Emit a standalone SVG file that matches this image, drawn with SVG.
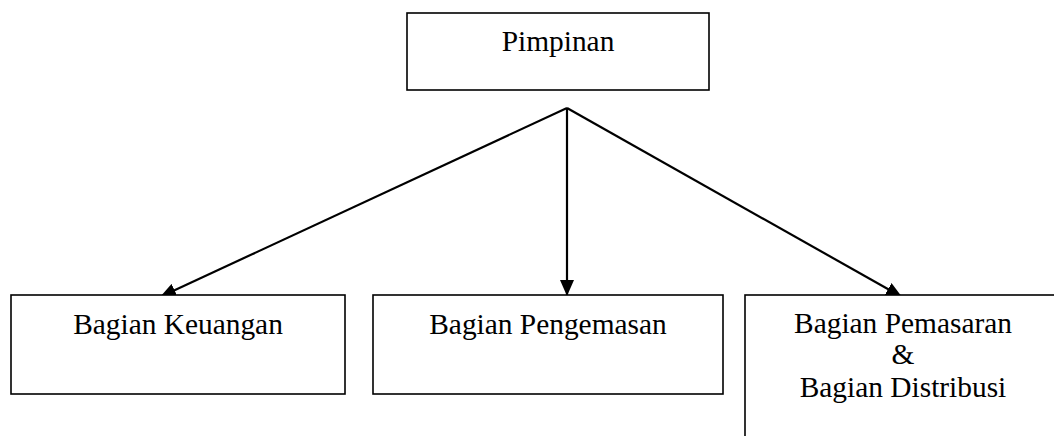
<svg xmlns="http://www.w3.org/2000/svg" width="1054" height="436" viewBox="0 0 1054 436">
  <style>
    .box { fill: #ffffff; stroke: #000000; stroke-width: 1.6; }
    .lbl { font-family: "Liberation Serif", "Times New Roman", serif; font-size: 29.4px; fill: #000000; text-anchor: middle; }
    .conn { stroke: #000000; stroke-width: 2.2; fill: none; marker-end: url(#arrow); }
  </style>
  <defs>
    <marker id="arrow" viewBox="0 0 16 14" refX="16" refY="7" markerWidth="16" markerHeight="14" markerUnits="userSpaceOnUse" orient="auto">
      <path d="M0,0 L16,7 L0,14 z" fill="#000000"/>
    </marker>
  </defs>
  <rect width="1054" height="436" fill="#ffffff"/>
  <g id="connectors">
    <line class="conn" x1="567" y1="108" x2="160" y2="297"/>
    <line class="conn" x1="567" y1="108" x2="567" y2="296"/>
    <line class="conn" x1="567" y1="108" x2="902" y2="297"/>
  </g>
  <g id="pimpinan">
    <rect class="box" x="407" y="13" width="302" height="77"/>
    <text class="lbl" x="558" y="51">Pimpinan</text>
  </g>
  <g id="keuangan">
    <rect class="box" x="11" y="295" width="334" height="99"/>
    <text class="lbl" x="178" y="334">Bagian Keuangan</text>
  </g>
  <g id="pengemasan">
    <rect class="box" x="373" y="295" width="350" height="99"/>
    <text class="lbl" x="548" y="334">Bagian Pengemasan</text>
  </g>
  <g id="pemasaran">
    <rect class="box" x="745" y="295" width="330" height="160"/>
    <text class="lbl" x="903" y="333">Bagian Pemasaran</text>
    <text class="lbl" x="903" y="364">&amp;</text>
    <text class="lbl" x="903" y="397">Bagian Distribusi</text>
  </g>
</svg>
